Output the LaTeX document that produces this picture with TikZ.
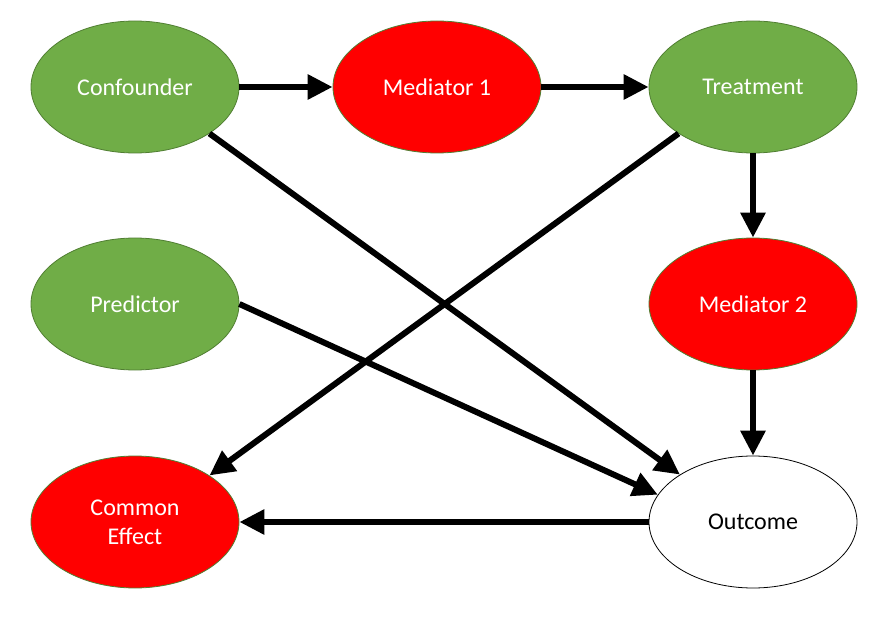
\documentclass[tikz,border=0pt]{standalone}
\usepackage{fontspec}
\setmainfont{Carlito}
\usetikzlibrary{arrows.meta,shapes.geometric}
\definecolor{ggreen}{HTML}{70AD47}
\definecolor{gborder}{HTML}{507E32}
\definecolor{rred}{HTML}{FF0000}
\tikzset{
  blob/.style={ellipse, minimum width=208pt, minimum height=132pt, inner sep=0pt,
    line width=0.8pt, align=center, font=\fontsize{24pt}{29pt}\selectfont},
  greenblob/.style={blob, fill=ggreen, draw=gborder, text=white},
  redblob/.style={blob, fill=rred, draw=gborder, text=white},
  whiteblob/.style={blob, fill=white, draw=black, text=black},
  conn/.style={line width=6pt, -{Triangle[length=25pt,width=24pt]}, shorten >=0pt}
}
\begin{document}
\begin{tikzpicture}[x=1pt,y=-1pt]
\useasboundingbox (0,0) rectangle (892,631);
\node[greenblob] (conf) at (135,87) {Confounder};
\node[redblob] (med1) at (437,87) {Mediator 1};
\node[greenblob] (treat) at (753,87) {Treatment};
\node[greenblob] (pred) at (135,304) {Predictor};
\node[redblob] (med2) at (753,304) {Mediator 2};
\node[redblob] (common) at (135,522) {Common\\Effect};
\node[whiteblob] (out) at (753,522) {Outcome};
\draw[conn] (conf.east) -- (med1.west);
\draw[conn] (med1.east) -- (treat.west);
\draw[conn] (treat.south) -- (med2.north);
\draw[conn] (med2.south) -- (out.north);
\draw[conn] (out.west) -- (common.east);
\draw[conn] (conf.-32) -- (out.147);
\draw[conn] (treat.-148) -- (common.32);
\draw[conn] (pred.east) -- (out.164);
\end{tikzpicture}
\end{document}
